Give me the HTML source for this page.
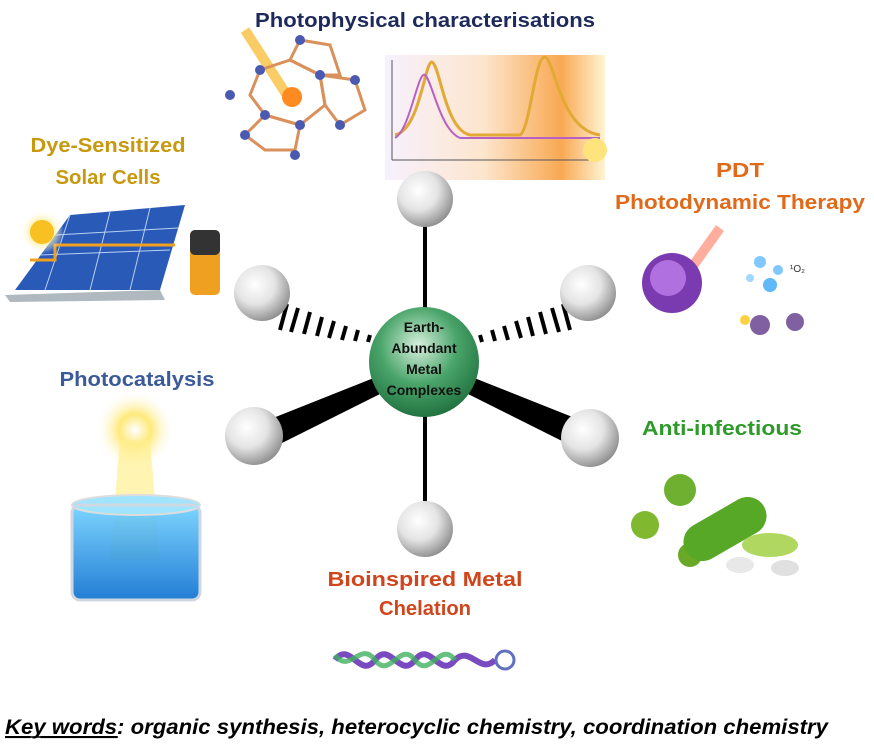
<!DOCTYPE html>
<html><head><meta charset="utf-8"><style>
html,body{margin:0;padding:0;background:#fff;}
svg{display:block;font-family:"Liberation Sans",sans-serif;}
</style></head><body>
<svg width="874" height="751" viewBox="0 0 874 751" xmlns="http://www.w3.org/2000/svg">
<defs>
<radialGradient id="ball" cx="0.38" cy="0.35" r="0.7">
<stop offset="0" stop-color="#ffffff"/><stop offset="0.5" stop-color="#e4e4e4"/><stop offset="1" stop-color="#8a8a8a"/></radialGradient>
<radialGradient id="gball" cx="0.45" cy="0.35" r="0.7">
<stop offset="0" stop-color="#d8f0de"/><stop offset="0.5" stop-color="#4aa56a"/><stop offset="1" stop-color="#1c6b3a"/></radialGradient>
<radialGradient id="sun" cx="0.5" cy="0.5" r="0.5">
<stop offset="0" stop-color="#fff"/><stop offset="0.4" stop-color="#ffe97a"/><stop offset="1" stop-color="#fff" stop-opacity="0"/></radialGradient>
<linearGradient id="spec" x1="0" x2="1"><stop offset="0" stop-color="#f7f0ff"/><stop offset="0.45" stop-color="#fde3c8"/><stop offset="0.8" stop-color="#f8a040"/><stop offset="1" stop-color="#fff3d0"/></linearGradient>
<linearGradient id="water" x1="0" y1="0" x2="0" y2="1"><stop offset="0" stop-color="#6fd0ff"/><stop offset="1" stop-color="#0a6fd0"/></linearGradient>
</defs>

<!-- Photophysical images -->
<g opacity="0.9">
<rect x="385" y="55" width="220" height="125" fill="url(#spec)"/>
<line x1="392" y1="60" x2="392" y2="160" stroke="#444"/><line x1="392" y1="160" x2="600" y2="160" stroke="#444"/>
<path d="M395 135 C420 130,425 60,432 62 C440 65,445 130,470 135 L520 135 C530 130,535 55,545 57 C555 60,560 130,600 135" fill="none" stroke="#e0a020" stroke-width="3"/>
<path d="M395 138 C410 130,418 70,425 75 C432 80,440 130,460 138 L600 138" fill="none" stroke="#b050c0" stroke-width="2"/>
<circle cx="595" cy="150" r="12" fill="#ffe070"/>
</g>
<g>
<line x1="245" y1="30" x2="290" y2="100" stroke="#f8c040" stroke-width="10" opacity="0.8"/>
<g stroke="#d9905a" stroke-width="3" fill="none">
<polygon points="260,70 290,60 320,75 325,105 300,125 265,115 250,95"/>
<polygon points="300,40 330,45 340,75 320,75 290,60"/>
<polygon points="320,75 355,80 365,110 340,125 325,105"/>
<polygon points="265,115 300,125 295,150 265,150 245,135"/>
</g>
<g fill="#4a5ab0"><circle cx="260" cy="70" r="5"/><circle cx="320" cy="75" r="5"/><circle cx="265" cy="115" r="5"/><circle cx="300" cy="125" r="5"/><circle cx="340" cy="125" r="5"/><circle cx="245" cy="135" r="5"/><circle cx="355" cy="80" r="5"/><circle cx="300" cy="40" r="5"/><circle cx="230" cy="95" r="5"/><circle cx="295" cy="155" r="5"/></g>
<circle cx="292" cy="97" r="10" fill="#ff8a20"/>
</g>

<!-- Solar -->
<g>
<polygon points="15,290 70,215 185,205 160,290" fill="#2a5ab8"/>
<polygon points="5,295 160,290 165,300 10,302" fill="#b0b8c0"/>
<g stroke="#b8d0f0" stroke-width="1"><line x1="40" y1="255" x2="170" y2="250"/><line x1="55" y1="235" x2="178" y2="228"/><line x1="70" y1="215" x2="45" y2="290"/><line x1="110" y1="212" x2="90" y2="290"/><line x1="150" y1="208" x2="130" y2="290"/></g>
<polyline points="30,260 55,260 55,245 165,245 175,245" fill="none" stroke="#f0a020" stroke-width="3"/>
<circle cx="42" cy="232" r="22" fill="url(#sun)"/><circle cx="42" cy="232" r="12" fill="#f8c020"/>
<rect x="190" y="230" width="30" height="65" rx="5" fill="#f0a020"/><rect x="190" y="230" width="30" height="25" rx="5" fill="#333"/>
</g>

<!-- PDT -->
<g>
<line x1="720" y1="228" x2="690" y2="270" stroke="#ff6040" stroke-width="10" opacity="0.5"/>
<circle cx="672" cy="283" r="30" fill="#7a3ab0"/><circle cx="668" cy="278" r="18" fill="#b070e0"/>
<circle cx="760" cy="262" r="6" fill="#80c8ff"/><circle cx="778" cy="270" r="5" fill="#80c8ff"/><circle cx="770" cy="285" r="7" fill="#60b8f8"/><circle cx="750" cy="278" r="4" fill="#a0d8ff"/>
<text x="790" y="272" font-size="10" fill="#333">¹O₂</text>
<circle cx="760" cy="325" r="10" fill="#8060a0"/><circle cx="795" cy="322" r="9" fill="#8060a0"/><circle cx="745" cy="320" r="5" fill="#ffd040"/>
</g>

<!-- Photocatalysis -->
<g>
<circle cx="135" cy="430" r="40" fill="url(#sun)"/>
<polygon points="120,440 150,440 160,560 110,560" fill="#ffef90" opacity="0.7"/>
<rect x="72" y="505" width="128" height="95" rx="8" fill="url(#water)" opacity="0.9"/>
<ellipse cx="136" cy="505" rx="64" ry="10" fill="#a0e4ff" stroke="#ddd" stroke-width="2"/>
<rect x="72" y="505" width="128" height="95" rx="8" fill="none" stroke="#cfd8e0" stroke-width="3"/>
</g>

<!-- Anti-infectious -->
<g>
<circle cx="680" cy="490" r="16" fill="#70b030"/><circle cx="645" cy="525" r="14" fill="#80b830"/><circle cx="690" cy="555" r="12" fill="#6aa828"/>
<rect x="680" y="510" width="90" height="38" rx="19" fill="#58a828" transform="rotate(-30 725 529)"/>
<ellipse cx="770" cy="545" rx="28" ry="12" fill="#b0d860"/>
<ellipse cx="740" cy="565" rx="14" ry="8" fill="#e8e8e8"/><ellipse cx="785" cy="568" rx="14" ry="8" fill="#e0e0e0"/>
</g>

<!-- Bioinspired -->
<g>
<path d="M335 660 C350 640,360 680,375 660 C390 640,400 680,415 660 C430 640,440 680,455 660 C470 645,480 675,495 660" fill="none" stroke="#7a4ac0" stroke-width="6"/>
<path d="M335 655 C350 675,360 640,375 660 C390 680,400 640,415 660 C430 680,440 640,455 660" fill="none" stroke="#40b060" stroke-width="5" opacity="0.8"/>
<circle cx="505" cy="660" r="9" fill="none" stroke="#6070c0" stroke-width="3"/>
</g>

<!-- bonds -->
<line x1="425" y1="215" x2="425" y2="520" stroke="#000" stroke-width="4"/>
<polygon points="424,358 258,424 264,452 428,370" fill="#000"/>
<polygon points="424,358 590,424 584,452 420,370" fill="#000"/>
<g stroke="#000" stroke-width="4" fill="none">
<line x1="370" y1="335" x2="368" y2="342"/><line x1="358" y1="330" x2="355" y2="341"/><line x1="346" y1="326" x2="342" y2="340"/><line x1="334" y1="321" x2="329" y2="338"/><line x1="322" y1="317" x2="317" y2="336"/><line x1="310" y1="312" x2="304" y2="334"/><line x1="298" y1="308" x2="291" y2="332"/><line x1="287" y1="304" x2="280" y2="330"/>
<line x1="480" y1="335" x2="482" y2="342"/><line x1="492" y1="330" x2="495" y2="341"/><line x1="504" y1="326" x2="508" y2="340"/><line x1="516" y1="321" x2="521" y2="338"/><line x1="528" y1="317" x2="533" y2="336"/><line x1="540" y1="312" x2="546" y2="334"/><line x1="552" y1="308" x2="559" y2="332"/><line x1="563" y1="304" x2="570" y2="330"/>
</g>
<circle cx="425" cy="199" r="28" fill="url(#ball)"/>
<circle cx="262" cy="293" r="28" fill="url(#ball)"/>
<circle cx="588" cy="293" r="28" fill="url(#ball)"/>
<circle cx="254" cy="436" r="29" fill="url(#ball)"/>
<circle cx="590" cy="438" r="29" fill="url(#ball)"/>
<circle cx="425" cy="529" r="28" fill="url(#ball)"/>
<circle cx="424" cy="362" r="55" fill="url(#gball)"/>
<g font-weight="bold" font-size="14" fill="#111" text-anchor="middle">
<text x="424" y="332">Earth-</text><text x="424" y="353">Abundant</text><text x="424" y="374">Metal</text><text x="424" y="395">Complexes</text>
</g>

<!-- labels -->
<g font-weight="bold" font-size="20" text-anchor="middle">
<text x="425" y="27" fill="#1f2a5c" textLength="340" lengthAdjust="spacingAndGlyphs">Photophysical characterisations</text>
<text x="108" y="152" fill="#c8980e" textLength="155" lengthAdjust="spacingAndGlyphs">Dye-Sensitized</text>
<text x="108" y="184" fill="#c8980e" textLength="105" lengthAdjust="spacingAndGlyphs">Solar Cells</text>
<text x="740" y="177" fill="#e06a1a" textLength="48" lengthAdjust="spacingAndGlyphs">PDT</text>
<text x="740" y="209" fill="#e06a1a" textLength="250" lengthAdjust="spacingAndGlyphs">Photodynamic Therapy</text>
<text x="137" y="386" fill="#3a5a9a" textLength="155" lengthAdjust="spacingAndGlyphs">Photocatalysis</text>
<text x="722" y="435" fill="#2e9a2a" textLength="160" lengthAdjust="spacingAndGlyphs">Anti-infectious</text>
<text x="425" y="586" fill="#d0451b" textLength="195" lengthAdjust="spacingAndGlyphs">Bioinspired Metal</text>
<text x="425" y="615" fill="#d0451b" textLength="92" lengthAdjust="spacingAndGlyphs">Chelation</text>
</g>
<text x="5" y="734" font-size="21" font-weight="bold" font-style="italic" fill="#000" textLength="823" lengthAdjust="spacingAndGlyphs"><tspan text-decoration="underline">Key words</tspan>: organic synthesis, heterocyclic chemistry, coordination chemistry</text>
<line x1="5" y1="737" x2="118" y2="737" stroke="#000" stroke-width="1.5"/>
</svg>
</body></html>
